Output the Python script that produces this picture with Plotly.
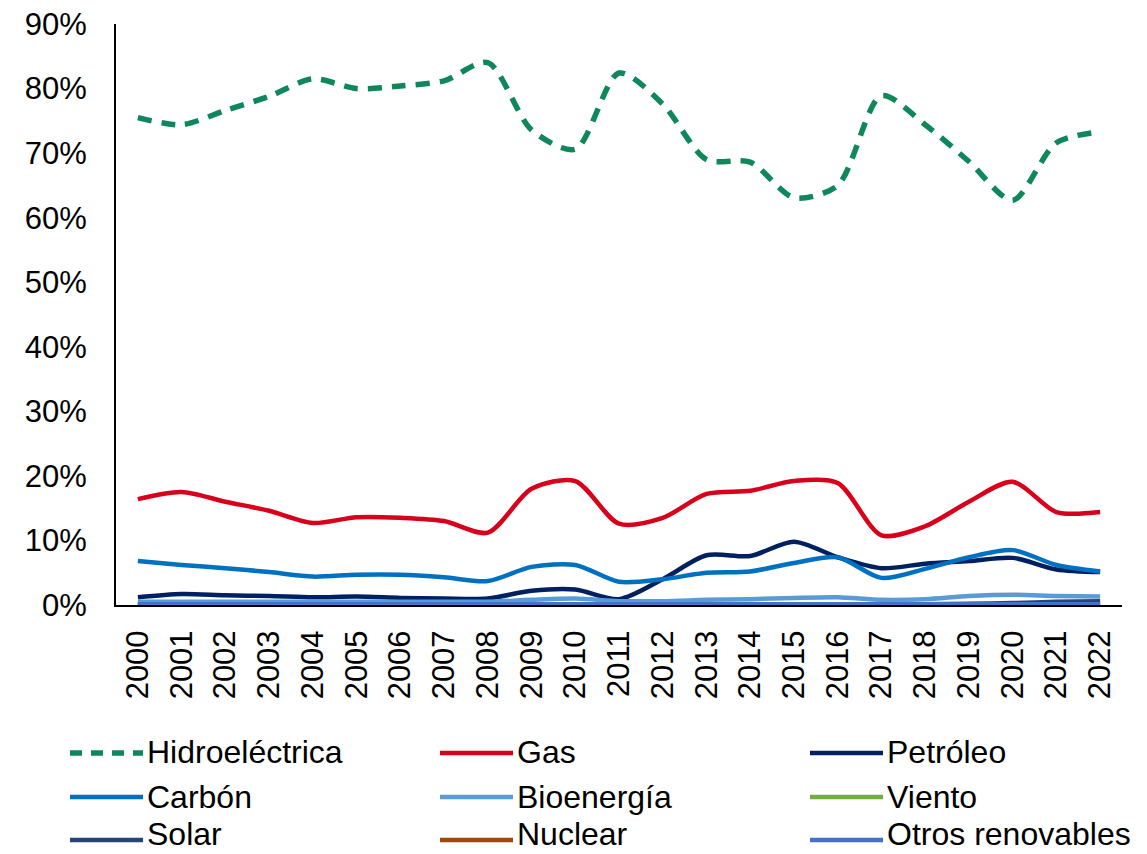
import plotly.graph_objects as go

years = list(range(2000, 2023))

hidro = [75.5, 74.4, 76.6, 78.8, 81.5, 80.0, 80.4, 81.2, 84.0, 73.6, 70.6, 82.4, 77.6, 69.0, 68.6,
         63.1, 65.0, 78.9, 74.4, 68.7, 62.7, 71.6, 73.3]
gas = [16.4, 17.5, 16.0, 14.6, 12.7, 13.6, 13.5, 13.0, 11.2, 18.0, 19.2, 12.6, 13.5, 17.2, 17.7,
       19.2, 18.9, 10.8, 12.2, 16.0, 19.1, 14.4, 14.4]
petroleo = [1.2, 1.7, 1.5, 1.4, 1.2, 1.3, 1.1, 1.0, 1.0, 2.2, 2.4, 0.9, 4.0, 7.7, 7.6,
            9.8, 7.4, 5.7, 6.4, 6.8, 7.3, 5.5, 5.1]
carbon = [6.8, 6.2, 5.7, 5.1, 4.4, 4.7, 4.7, 4.3, 3.7, 5.9, 6.2, 3.6, 4.0, 5.0, 5.2,
          6.5, 7.4, 4.2, 5.6, 7.4, 8.5, 6.2, 5.2]
bio = [0.5, 0.5, 0.5, 0.5, 0.5, 0.5, 0.5, 0.5, 0.5, 0.8, 1.0, 0.6, 0.6, 0.8, 0.9,
       1.1, 1.2, 0.8, 0.9, 1.4, 1.6, 1.4, 1.3]
viento = [0.0, 0.0, 0.0, 0.0, 0.0, 0.0, 0.0, 0.0, 0.0, 0.0, 0.0, 0.0, 0.0, 0.0, 0.0,
          0.0, 0.0, 0.0, 0.0, 0.0, 0.1, 0.1, 0.1]
solar = [0.0, 0.0, 0.0, 0.0, 0.0, 0.0, 0.0, 0.0, 0.0, 0.0, 0.0, 0.0, 0.0, 0.0, 0.0,
         0.0, 0.0, 0.0, 0.1, 0.2, 0.3, 0.5, 0.6]
nuclear = [0.0] * 23
otros = [0.1] * 23

series = [
    ("Hidroeléctrica", hidro, "#0E875A", 5.5, "14px,10px"),
    ("Gas", gas, "#D9001B", 4.5, "solid"),
    ("Petróleo", petroleo, "#002060", 4.5, "solid"),
    ("Carbón", carbon, "#0070C0", 4.5, "solid"),
    ("Bioenergía", bio, "#5B9BD5", 4.5, "solid"),
    ("Viento", viento, "#70AD47", 4.5, "solid"),
    ("Solar", solar, "#264478", 4.5, "solid"),
    ("Nuclear", nuclear, "#9E480E", 4.5, "solid"),
    ("Otros renovables", otros, "#4472C4", 4.5, "solid"),
]

W, H = 1147, 854
ML, MR, MT, MB = 116, 25, 24, 249
PW, PH = W - ML - MR, H - MT - MB


def px_x(x):
    return (x - ML) / PW


def px_y(y):
    return (H - MB - y) / PH


FONT = "Liberation Sans, Arial, sans-serif"

fig = go.Figure()
for name, vals, color, w, dash in series:
    fig.add_trace(go.Scatter(
        x=years, y=[v / 100 for v in vals], name=name, mode="lines",
        line=dict(color=color, width=w, dash=dash, shape="spline", smoothing=0.8),
        showlegend=False,
    ))

# manual legend (3 columns x 3 rows)
col_x = [70, 440, 810]
row_line_y = [753, 797, 840]
row_text_y = [752, 797, 834]
shapes, annotations = [], []
for i, (name, vals, color, w, dash) in enumerate(series):
    cx = col_x[i % 3]
    shapes.append(dict(
        type="line", xref="paper", yref="paper",
        x0=px_x(cx), x1=px_x(cx + 73),
        y0=px_y(row_line_y[i // 3]), y1=px_y(row_line_y[i // 3]),
        line=dict(color=color, width=5.5 if i == 0 else 4.5,
                  dash="12px,9px" if i == 0 else "solid"),
    ))
    annotations.append(dict(
        xref="paper", yref="paper", x=px_x(cx + 75), y=px_y(row_text_y[i // 3]),
        xanchor="left", yanchor="middle", text=name, showarrow=False,
        font=dict(family=FONT, size=32, color="black"),
    ))

fig.update_layout(
    width=W, height=H,
    margin=dict(l=ML, r=MR, t=MT, b=MB, autoexpand=False),
    paper_bgcolor="white", plot_bgcolor="white",
    font=dict(family=FONT, size=31, color="black"),
    showlegend=False,
    shapes=shapes, annotations=annotations,
)
fig.update_xaxes(
    range=[1999.5, 2022.5], tickvals=years, ticktext=[str(y) for y in years],
    tickangle=-90, showgrid=False, zeroline=False, showline=True,
    linecolor="black", linewidth=2, ticks="", tickfont=dict(size=31),
    ticklabelstandoff=11,
)
fig.update_yaxes(
    range=[0, 0.9], dtick=0.1, tickformat=".0%", showgrid=False, zeroline=False,
    showline=True, linecolor="black", linewidth=2, ticks="", tickfont=dict(size=31),
    ticklabelstandoff=21,
)

fig.write_html(
    "out.html",
    config={"displayModeBar": False},
    post_script="document.body.style.margin='0';document.body.style.overflow='hidden';",
)
